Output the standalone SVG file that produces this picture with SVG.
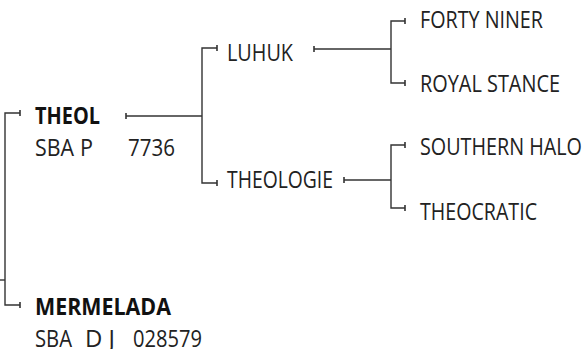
<svg xmlns="http://www.w3.org/2000/svg" width="587" height="349" viewBox="0 0 587 349">
<style>
.ln{fill:none;stroke:#333;stroke-width:1.4;marker-start:url(#tick);marker-end:url(#tick)}
.st{fill:none;stroke:#333;stroke-width:1.4}
.t{font-family:"Open Sans","Noto Sans","Liberation Sans",sans-serif;font-size:23.5px;fill:#222}
.b{font-weight:bold;fill:#111}
</style>
<defs>
<marker id="tick" markerUnits="userSpaceOnUse" markerWidth="4" markerHeight="10" refX="2" refY="5" orient="auto" viewBox="0 0 4 10">
<path d="M2,2 V8" stroke="#333" stroke-width="1.6"/>
</marker>
</defs>
<rect width="587" height="349" fill="#fff"/>
<g id="connectors">
<path class="st" d="M0,280 H5"/>
<path class="ln" d="M20,113 H5 V305 H20"/>
<path class="ln" d="M126,116 H202" style="marker-end:none"/>
<path class="ln" d="M217,48 H202 V183 H217"/>
<path class="ln" d="M314,49 H391" style="marker-end:none"/>
<path class="ln" d="M405,21 H391 V83 H405"/>
<path class="ln" d="M344,180 H391" style="marker-end:none"/>
<path class="ln" d="M405,145 H391 V208 H405"/>
</g>
<g id="theol">
<text class="t b" x="35" y="124" textLength="65" lengthAdjust="spacingAndGlyphs">THEOL</text>
<text class="t" y="156"><tspan x="35" textLength="39" lengthAdjust="spacingAndGlyphs">SBA</tspan><tspan x="80" textLength="13" lengthAdjust="spacingAndGlyphs">P</tspan><tspan x="128" textLength="47" lengthAdjust="spacingAndGlyphs">7736</tspan></text>
</g>
<g id="mermelada">
<text class="t b" x="35" y="315" textLength="136" lengthAdjust="spacingAndGlyphs">MERMELADA</text>
<text class="t" y="347"><tspan x="35" textLength="37" lengthAdjust="spacingAndGlyphs">SBA</tspan><tspan x="85" textLength="30" lengthAdjust="spacingAndGlyphs">D J</tspan><tspan x="133" textLength="69" lengthAdjust="spacingAndGlyphs">028579</tspan></text>
</g>
<g id="luhuk">
<text class="t" x="227" y="61" textLength="66" lengthAdjust="spacingAndGlyphs">LUHUK</text>
</g>
<g id="theologie">
<text class="t" x="227" y="188" textLength="106" lengthAdjust="spacingAndGlyphs">THEOLOGIE</text>
</g>
<g id="forty-niner">
<text class="t" x="420" y="28" textLength="123" lengthAdjust="spacingAndGlyphs">FORTY NINER</text>
</g>
<g id="royal-stance">
<text class="t" x="420" y="92" textLength="140" lengthAdjust="spacingAndGlyphs">ROYAL STANCE</text>
</g>
<g id="southern-halo">
<text class="t" x="420" y="155" textLength="162" lengthAdjust="spacingAndGlyphs">SOUTHERN HALO</text>
</g>
<g id="theocratic">
<text class="t" x="420" y="220" textLength="117" lengthAdjust="spacingAndGlyphs">THEOCRATIC</text>
</g>
</svg>
